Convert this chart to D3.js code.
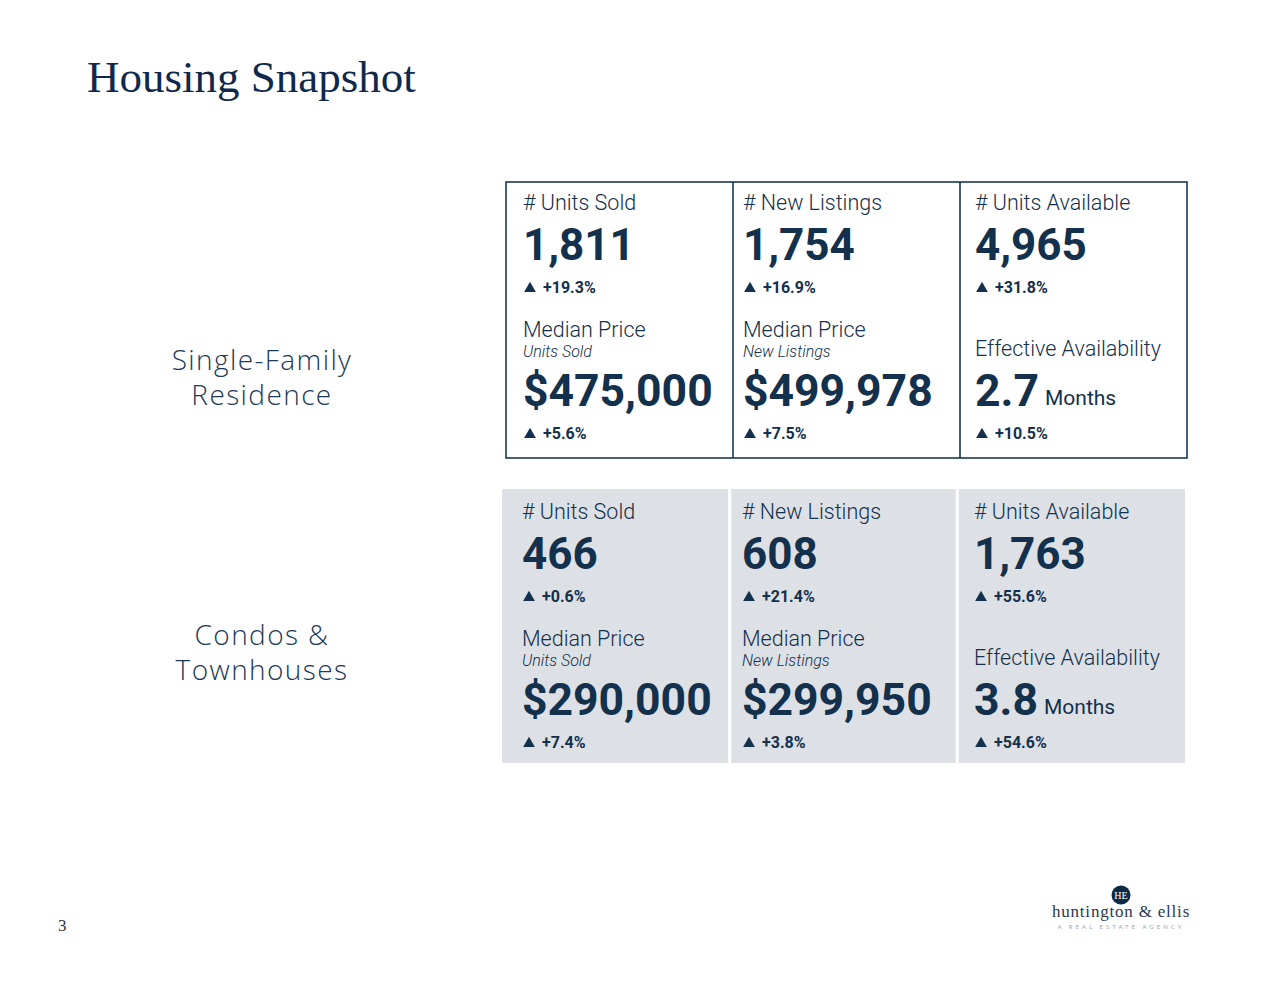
<!DOCTYPE html>
<html><head><meta charset="utf-8">
<script src="https://cdn.jsdelivr.net/npm/d3@7"></script>
<style>body{margin:0;background:#fff}svg{display:block}</style>
</head><body>
<script>
// ---- data ----
const groups = ["Single-Family\nResidence", "Condos &\nTownhouses"];
const countLabels = ["# Units Sold", "# New Listings", "# Units Available"];
const countValues = [[1811, 1754, 4965], [466, 608, 1763]];
const countChanges = [[19.3, 16.9, 31.8], [0.6, 21.4, 55.6]];
const lowerLabels = ["Median Price", "Median Price", "Effective Availability"];
const lowerSubs = ["Units Sold", "New Listings", ""];
const priceValues = [[475000, 499978], [290000, 299950]];
const monthsValues = [2.7, 3.8];
const lowerChanges = [[5.6, 7.5, 10.5], [7.4, 3.8, 54.6]];

const W = 1280, H = 989;
const navy = "#0c2a47", txt = "#13304c";
const svg = d3.select("body").append("svg").attr("width", W).attr("height", H);

svg.append("text").attr("x", 87).attr("y", 92)
  .attr("font-family", "'Liberation Serif', serif").attr("font-size", 45)
  .attr("fill", "#10294a").text("Housing Snapshot");

const fmt = d3.format(",");
const tri = d3.symbol(d3.symbolTriangle, 60)();

const colX = d3.scaleBand().domain([0,1,2]);
const panels = [
  {x0: 506, x1: 1187, y: 182, h: 276, textX: [523, 743, 975], dy: 0, fill: "none"},
  {x0: 502, x1: 1185, y: 489, h: 274, textX: [522, 742, 974], dy: 309, fill: "#dde0e5"}
];

panels.forEach((p, gi) => {
  colX.range([p.x0, p.x1]);
  const g = svg.append("g");
  if (gi === 0) {
    g.append("rect").attr("x", p.x0).attr("y", p.y).attr("width", p.x1 - p.x0).attr("height", p.h)
      .attr("fill", "none").attr("stroke", navy).attr("stroke-width", 1.5);
    [1,2].forEach(i => g.append("line").attr("x1", colX(i)).attr("x2", colX(i))
      .attr("y1", p.y).attr("y2", p.y + p.h).attr("stroke", navy).attr("stroke-width", 1.5));
  } else {
    [0,1,2].forEach(i => g.append("rect").attr("x", colX(i) + (i ? 1.5 : 0)).attr("y", p.y)
      .attr("width", colX.bandwidth() - (i ? 1.5 : 0) - (i < 2 ? 1.5 : 0)).attr("height", p.h)
      .attr("fill", p.fill));
  }
  // group label
  const lines = groups[gi].split("\n");
  const ly = gi === 0 ? 370 : 645;
  lines.forEach((l, k) => svg.append("text").attr("x", 262).attr("y", ly + k * 35)
    .attr("text-anchor", "middle").attr("font-family", "'Open Sans', Lato, sans-serif")
    .attr("font-weight", 300).attr("font-size", 28).attr("letter-spacing", 1.4)
    .attr("fill", "#1d3956").text(l));

  const off = p.dy;
  [0,1,2].forEach(i => {
    const x = p.textX[i];
    const t = (y, s, size, weight, style, dx) => g.append("text").attr("x", x + (dx || 0)).attr("y", y + off)
      .attr("font-family", "Roboto, sans-serif").attr("font-size", size)
      .attr("font-weight", weight).attr("font-style", style || "normal").attr("fill", txt).text(s);
    const pc = (y, v) => {
      g.append("path").attr("d", tri).attr("fill", txt)
        .attr("transform", `translate(${x + 7},${y + off - 4.5})`);
      t(y, "+" + v.toFixed(1) + "%", 16, 700, "normal", 20);
    };
    t(210, countLabels[i], 21.5, 300);
    t(260, fmt(countValues[gi][i]), 44, 700);
    pc(293, countChanges[gi][i]);
    if (i < 2) {
      t(337, lowerLabels[i], 21.5, 300);
      t(357, lowerSubs[i], 16, 300, "italic");
      t(406, "$" + fmt(priceValues[gi][i]), 44.5, 700);
    } else {
      t(356, lowerLabels[i], 21.5, 300);
      const tt = t(406, "", 44.5, 700);
      tt.append("tspan").text(monthsValues[gi].toFixed(1));
      tt.append("tspan").attr("font-size", 21).attr("font-weight", 400).attr("dx", 6).attr("dy", -1).text("Months");
    }
    pc(439, lowerChanges[gi][i]);
  });
});

// page number
svg.append("text").attr("x", 58).attr("y", 931).attr("font-family", "'Liberation Serif', serif")
  .attr("font-size", 17).attr("fill", "#333").text("3");

// logo
const lg = svg.append("g");
lg.append("circle").attr("cx", 1121).attr("cy", 895).attr("r", 9.5).attr("fill", navy);
lg.append("text").attr("x", 1121).attr("y", 899).attr("text-anchor", "middle")
  .attr("font-family", "'Liberation Serif', serif").attr("font-size", 10).attr("fill", "#fff").text("HE");
lg.append("text").attr("x", 1121).attr("y", 917).attr("text-anchor", "middle")
  .attr("font-family", "'Liberation Serif', serif").attr("font-size", 17).attr("letter-spacing", 0.8)
  .attr("fill", "#2a3a4f").text("huntington & ellis");
lg.append("text").attr("x", 1121).attr("y", 929).attr("text-anchor", "middle")
  .attr("font-family", "Lato, sans-serif").attr("font-size", 6).attr("letter-spacing", 3)
  .attr("fill", "#a0a6ad").text("A REAL ESTATE AGENCY");
</script>
</body></html>
